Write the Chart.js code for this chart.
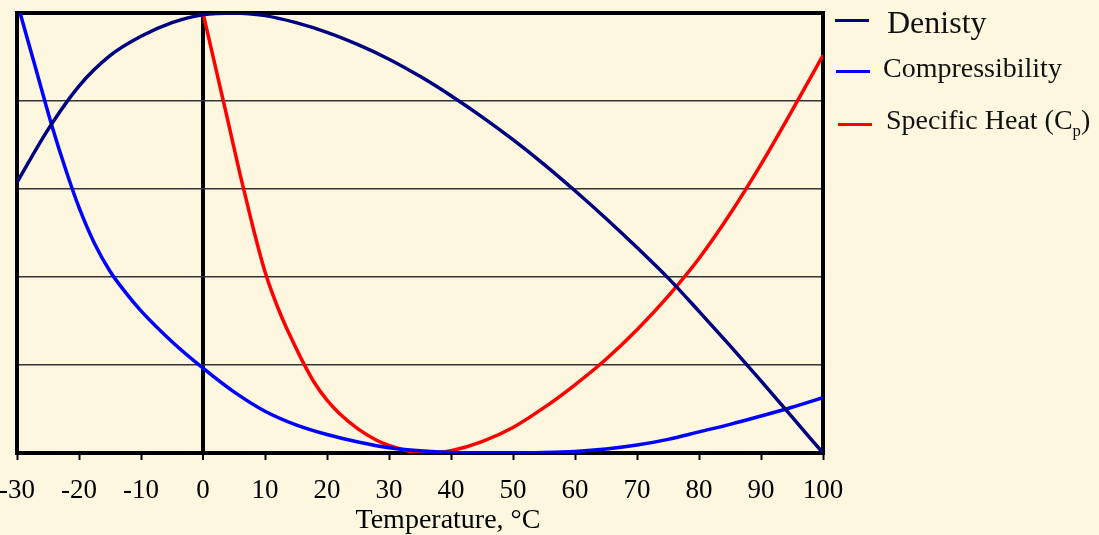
<!DOCTYPE html>
<html lang="en">
<head>
    <meta charset="UTF-8">
    <title>Water properties vs temperature</title>
    <script src="https://cdn.jsdelivr.net/npm/chart.js"></script>
    <style>
        body {
            margin: 0;
            background-color: #fcf7de;
            font-family: 'Liberation Serif', 'Times New Roman', serif;
        }
        #wrap {
            position: relative;
            width: 1099px;
            height: 535px;
        }
        .swatch {
            position: absolute;
            width: 34px;
            height: 3px;
        }
        .label {
            position: absolute;
            color: #111;
            line-height: 1;
            white-space: nowrap;
        }
        .label sub {
            font-size: 60%;
            line-height: 0;
        }
    </style>
</head>
<body>
    <div id="wrap">
        <canvas id="propChart"></canvas>
        <span class="swatch" style="left:835px; top:19px; background:#000080;"></span>
        <span class="label" style="left:887px; top:6px; font-size:32px;">Denisty</span>
        <span class="swatch" style="left:836px; top:70px; background:#0000ff;"></span>
        <span class="label" style="left:883px; top:54px; font-size:28px;">Compressibility</span>
        <span class="swatch" style="left:838px; top:123px; background:#ff0000;"></span>
        <span class="label" style="left:886px; top:106px; font-size:28px;">Specific Heat (C<sub>p</sub>)</span>
    </div>

    <script>
        // values, y on a 0-100 relative scale (no y labels in the original)
        const densityTemps = [-30, -25, -20, -15, -10, -5, 0, 5, 10, 15, 20, 25, 30, 35, 40, 45, 50, 55, 60, 65, 70, 75, 80, 85, 90, 95, 100];
        const densityVals  = [61.5, 73.5, 83.4, 90.3, 94.7, 97.8, 99.6, 100, 99.4, 97.8, 95.6, 92.8, 89.5, 85.6, 81.2, 76.4, 71.2, 65.6, 59.6, 53.3, 46.7, 39.8, 32.2, 24.4, 16.4, 8.2, 0];

        const compTemps = [-29.5, -27, -24.4, -22, -20, -17.5, -15, -12.5, -10, -5, 0, 5, 10, 15, 20, 25, 30, 35, 40, 45, 50, 55, 60, 65, 70, 75, 80, 85, 90, 95, 100];
        const compVals  = [100, 87.5, 74.5, 63.8, 55.8, 47.6, 41.3, 36.5, 32.3, 25.3, 19.3, 13.9, 9.5, 6.4, 4.2, 2.5, 1.2, 0.5, 0.1, 0, 0, 0.1, 0.35, 0.9, 1.8, 3.1, 4.8, 6.5, 8.4, 10.4, 12.6];

        const heatTemps = [0, 2, 4, 6, 8, 9, 10, 11, 12, 13, 14, 16, 18, 20, 22, 25, 28, 30, 33, 36, 38, 40, 45, 50, 55, 60, 65, 70, 75, 80, 85, 90, 95, 100];
        const heatVals  = [100, 87.8, 75.6, 63.2, 51.6, 46.2, 41.2, 37, 33.3, 29.9, 26.8, 21, 15.9, 12, 9, 5.5, 2.9, 1.7, 0.5, 0, 0.1, 0.5, 2.6, 5.8, 10.3, 15.5, 21.3, 28, 35.6, 44.2, 54.3, 65.6, 77.8, 90.4];

        const xTicks = [-30, -20, -10, 0, 10, 20, 30, 40, 50, 60, 70, 80, 90, 100];

        function toPoints(temps, vals) {
            return temps.map((t, i) => ({ x: t, y: vals[i] }));
        }

        // thick black box round the plot area
        const frame = {
            id: 'frame',
            beforeDatasetsDraw(chart) {
                const a = chart.chartArea;
                const c = chart.ctx;
                c.save();
                c.strokeStyle = '#000';
                c.lineWidth = 4;
                c.strokeRect(a.left, a.top, a.right - a.left, a.bottom - a.top);
                c.restore();
            }
        };

        const serif = "'Liberation Serif', 'Times New Roman', serif";

        new Chart(document.getElementById('propChart'), {
            type: 'line',
            data: {
                datasets: [
                    { label: 'Denisty', data: toPoints(densityTemps, densityVals), borderColor: '#000080' },
                    { label: 'Compressibility', data: toPoints(compTemps, compVals), borderColor: '#0000ff' },
                    { label: 'Specific Heat (Cp)', data: toPoints(heatTemps, heatVals), borderColor: '#ff0000' }
                ]
            },
            options: {
                responsive: true,
                maintainAspectRatio: false,
                animation: false,
                layout: { padding: { top: 13, right: 276, left: 17, bottom: 0 } },
                elements: {
                    point: { radius: 0 },
                    line: { borderWidth: 3.5, cubicInterpolationMode: 'monotone', fill: false }
                },
                plugins: {
                    legend: { display: false },
                    tooltip: { enabled: false }
                },
                scales: {
                    x: {
                        type: 'linear',
                        min: -30,
                        max: 100,
                        afterBuildTicks: axis => { axis.ticks = xTicks.map(v => ({ value: v })); },
                        afterFit: axis => { axis.paddingLeft = 0; },
                        ticks: {
                            color: '#000',
                            padding: 17,
                            font: { family: serif, size: 27, lineHeight: 1 },
                            maxRotation: 0
                        },
                        grid: {
                            color: ctx => ctx.tick && ctx.tick.value === 0 ? '#000' : 'rgba(0,0,0,0)',
                            lineWidth: ctx => ctx.tick && ctx.tick.value === 0 ? 4 : 1,
                            tickColor: '#000',
                            tickWidth: 2,
                            tickLength: 7
                        },
                        border: { color: '#000', width: 4 },
                        title: {
                            display: true,
                            text: '\u2003\u2003Temperature, °C',
                            color: '#000',
                            font: { family: serif, size: 28, lineHeight: 1 },
                            padding: { top: -14, bottom: 0 }
                        }
                    },
                    y: {
                        min: 0,
                        max: 100,
                        afterFit: axis => { axis.width = 0; },
                        ticks: { display: false, stepSize: 20 },
                        grid: { color: '#333', lineWidth: 1.5, drawTicks: false },
                        border: { color: '#000', width: 4 }
                    }
                }
            },
            plugins: [frame]
        });
    </script>
</body>
</html>
